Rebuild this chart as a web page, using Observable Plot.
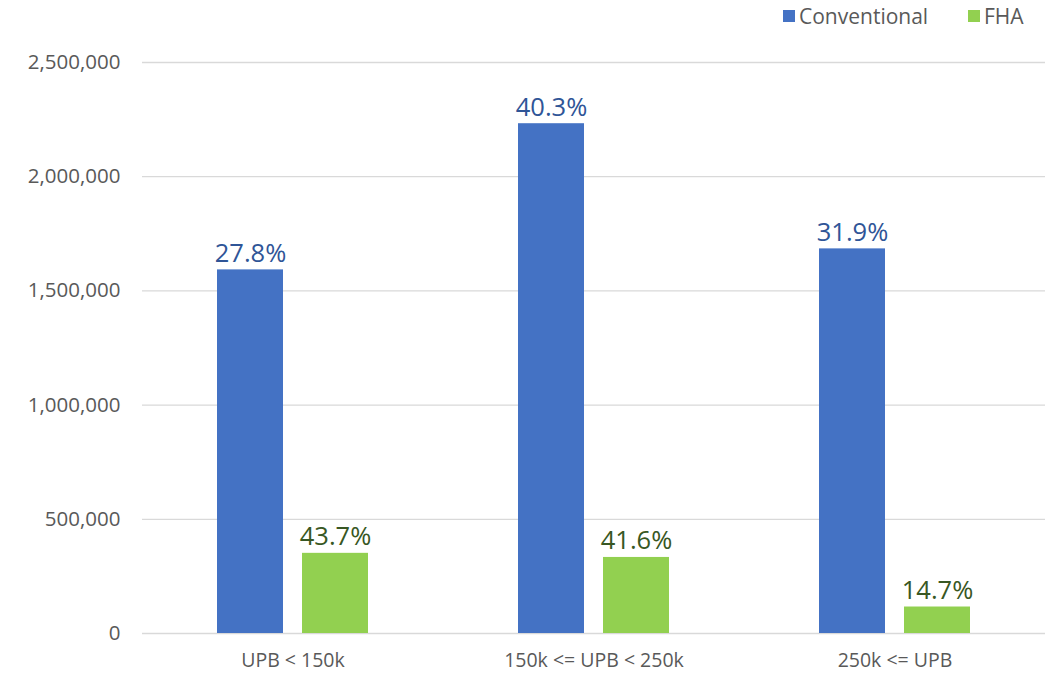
<!DOCTYPE html>
<html>
<head>
<meta charset="utf-8">
<script src="https://cdn.jsdelivr.net/npm/d3@7"></script>
<script src="https://cdn.jsdelivr.net/npm/@observablehq/plot@0.6"></script>
<style>
  html, body { margin: 0; padding: 0; background: #fff; }
  #wrap { position: relative; width: 1045px; }
  #legend { height: 35px; position: relative; font-family: "Open Sans", sans-serif; font-size: 21px; color: #595959; }
  .item { position: absolute; top: 2px; display: flex; align-items: center; }
  .sw { width: 12px; height: 12px; margin-right: 4px; }
</style>
</head>
<body>
<div id="wrap">
  <div id="legend"></div>
  <div id="chart"></div>
</div>
<script>
const categories = ["UPB < 150k", "150k <= UPB < 250k", "250k <= UPB"];
const series = ["Conventional", "FHA"];
const seriesColors = ["#4472C4", "#92D050"];
const labelColors = ["#2F5597", "#385723"];
const conventional = [1592000, 2232000, 1684000];
const fha = [351000, 333000, 116000];
const conventionalPct = ["27.8%", "40.3%", "31.9%"];
const fhaPct = ["43.7%", "41.6%", "14.7%"];
const yTicks = [0, 500000, 1000000, 1500000, 2000000, 2500000];

const rows = categories.flatMap((c, i) => [
  {cat: c, series: "Conventional", value: conventional[i], label: conventionalPct[i]},
  {cat: c, series: "FHA", value: fha[i], label: fhaPct[i]}
]);

// legend
const legend = document.getElementById("legend");
const legendX = [783, 968];
series.forEach((s, i) => {
  const it = document.createElement("div");
  it.className = "item";
  it.style.left = legendX[i] + "px";
  it.innerHTML = `<span class="sw" style="background:${seriesColors[i]}"></span><span>${s}</span>`;
  legend.appendChild(it);
});

const chart = Plot.plot({
  width: 1045,
  height: 642,
  marginLeft: 142,
  marginRight: 0,
  marginTop: 27,
  marginBottom: 44,
  style: {fontFamily: "'Open Sans', sans-serif", color: "#595959", background: "#fff"},
  fx: {domain: categories, padding: 0, label: null},
  x: {domain: series, paddingInner: 0.22, paddingOuter: 0.87, axis: null},
  y: {domain: [0, 2500000], label: null},
  color: {domain: series, range: seriesColors},
  marks: [
    Plot.gridY(yTicks, {stroke: "#d9d9d9", strokeOpacity: 1, strokeWidth: 1.3}),
    Plot.axisY(yTicks, {tickSize: 0, tickPadding: 22, tickFormat: d3.format(","), fontSize: 20.5, label: null, fill: "#595959"}),
    Plot.axisFx({anchor: "bottom", tickSize: 0, tickPadding: 20, fontSize: 19.5, label: null, fill: "#595959"}),
    Plot.barY(rows, {fx: "cat", x: "series", y: "value", fill: "series"}),
    Plot.text(rows.filter(d => d.series === "Conventional"), {fx: "cat", x: "series", y: "value", text: "label", lineAnchor: "bottom", dy: -8, fontSize: 25.5, fill: labelColors[0]}),
    Plot.text(rows.filter(d => d.series === "FHA"), {fx: "cat", x: "series", y: "value", text: "label", lineAnchor: "bottom", dy: -8, fontSize: 25.5, fill: labelColors[1]})
  ]
});
document.getElementById("chart").appendChild(chart);
</script>
</body>
</html>
